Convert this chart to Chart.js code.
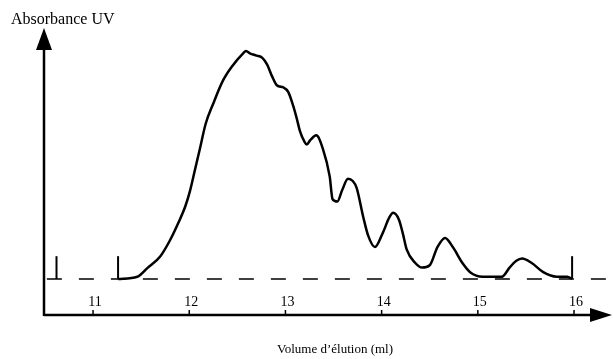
<!DOCTYPE html>
<html>
<head>
<meta charset="utf-8">
<title>Absorbance UV</title>
<script src="https://cdn.jsdelivr.net/npm/chart.js@4/dist/chart.umd.min.js"></script>
<style>
  html, body { margin: 0; padding: 0; background: #fff; }
  #wrap { width: 613px; height: 359px; position: relative; }
</style>
</head>
<body>
<div id="wrap"><canvas id="myLineChart" width="613" height="359"></canvas></div>
<script>
// Elution profile (volume in ml, absorbance in arbitrary units, baseline = 0)
const volumes = [11.26, 11.46, 11.57, 11.70, 11.80, 11.88, 11.96, 12.01, 12.06, 12.11, 12.17, 12.25, 12.35, 12.44,
  12.56, 12.59, 12.63, 12.70, 12.76, 12.81, 12.86, 12.91, 12.98, 13.03, 13.08, 13.12, 13.15, 13.20, 13.22,
  13.26, 13.32, 13.39, 13.46, 13.49, 13.54, 13.59, 13.65, 13.70, 13.74, 13.81, 13.86, 13.93, 14.01, 14.08,
  14.12, 14.18, 14.22, 14.26, 14.35, 14.42, 14.50, 14.58, 14.66, 14.74, 14.84, 14.92, 15.05, 15.25, 15.33,
  15.40, 15.46, 15.56, 15.68, 15.82, 15.93, 15.98];
const absorbance = [0.00, 0.01, 0.05, 0.10, 0.17, 0.24, 0.32, 0.39, 0.48, 0.57, 0.68, 0.77, 0.87, 0.93,
  0.99, 1.00, 0.99, 0.98, 0.97, 0.94, 0.89, 0.85, 0.84, 0.82, 0.76, 0.70, 0.65, 0.60, 0.59,
  0.61, 0.63, 0.57, 0.45, 0.35, 0.34, 0.39, 0.44, 0.43, 0.40, 0.27, 0.19, 0.14, 0.20, 0.27,
  0.29, 0.26, 0.20, 0.13, 0.07, 0.05, 0.06, 0.14, 0.18, 0.14, 0.07, 0.03, 0.01, 0.01, 0.05,
  0.08, 0.09, 0.07, 0.03, 0.01, 0.01, 0.00];

// Small vertical markers standing on the baseline
const markerVolumes = [10.62, 11.26, 15.98];
const markerHeight = 0.10;

// Tick labels of the volume axis
const tickLabels = [11, 12, 13, 14, 15, 16];

const xMin = 10.49;
const xMax = 16.374;
const yMin = -0.158;
const yMax = 1.101;

// Draws the arrowed axes, the ticks and the texts
const axesPlugin = {
  id: 'arrowAxes',
  afterDraw(chart) {
    const ctx = chart.ctx;
    const area = chart.chartArea;
    const xScale = chart.scales.x;
    ctx.save();
    ctx.strokeStyle = '#000';
    ctx.fillStyle = '#000';
    ctx.lineWidth = 2.5;

    // y axis with arrow head
    ctx.beginPath();
    ctx.moveTo(area.left, area.bottom + 1);
    ctx.lineTo(area.left, area.top + 18);
    ctx.stroke();
    ctx.beginPath();
    ctx.moveTo(area.left, area.top);
    ctx.lineTo(area.left - 8, area.top + 22);
    ctx.lineTo(area.left + 8, area.top + 22);
    ctx.closePath();
    ctx.fill();

    // x axis with arrow head
    ctx.beginPath();
    ctx.moveTo(area.left, area.bottom);
    ctx.lineTo(area.right - 18, area.bottom);
    ctx.stroke();
    ctx.beginPath();
    ctx.moveTo(area.right + 2, area.bottom);
    ctx.lineTo(area.right - 20, area.bottom - 7);
    ctx.lineTo(area.right - 20, area.bottom + 7);
    ctx.closePath();
    ctx.fill();

    // ticks and labels
    ctx.lineWidth = 1.5;
    ctx.font = '14px "Liberation Serif", "Times New Roman", serif';
    ctx.textAlign = 'center';
    ctx.textBaseline = 'middle';
    tickLabels.forEach(v => {
      const px = xScale.getPixelForValue(v);
      ctx.beginPath();
      ctx.moveTo(px, area.bottom);
      ctx.lineTo(px, area.bottom - 5);
      ctx.stroke();
      ctx.fillText(String(v), px + 2, area.bottom - 13);
    });

    // axis titles
    ctx.font = '16px "Liberation Serif", "Times New Roman", serif';
    ctx.textAlign = 'left';
    ctx.fillText('Absorbance UV', 11, 20);
    ctx.font = '13px "Liberation Serif", "Times New Roman", serif';
    ctx.textAlign = 'center';
    ctx.fillText('Volume d\u2019élution (ml)', 335, 350);
    ctx.restore();
  }
};

document.addEventListener('DOMContentLoaded', () => {
  const ctx = document.getElementById('myLineChart').getContext('2d');

  const datasets = [{
    label: 'Absorbance',
    data: volumes.map((v, i) => ({ x: v, y: absorbance[i] })),
    borderColor: '#000',
    borderWidth: 2.5,
    pointRadius: 0,
    cubicInterpolationMode: 'monotone',
    fill: false,
  }, {
    label: 'Ligne de base',
    data: [{ x: xMin + 0.03, y: 0 }, { x: xMax + 0.05, y: 0 }],
    borderColor: '#000',
    borderWidth: 1.5,
    borderDash: [15, 17],
    pointRadius: 0,
    fill: false,
  }];

  // one short vertical segment per marker
  markerVolumes.forEach(v => {
    datasets.push({
      label: 'Marqueur',
      data: [{ x: v, y: 0 }, { x: v, y: markerHeight }],
      borderColor: '#000',
      borderWidth: 2,
      pointRadius: 0,
      fill: false,
    });
  });

  new Chart(ctx, {
    type: 'line',
    data: { datasets },
    options: {
      responsive: false,
      animation: false,
      clip: false,
      layout: { padding: { left: 44, right: 3, top: 28, bottom: 44 } },
      plugins: {
        legend: { display: false },
        tooltip: { enabled: false },
        title: { display: false },
      },
      scales: {
        x: { type: 'linear', min: xMin, max: xMax, display: false },
        y: { type: 'linear', min: yMin, max: yMax, display: false },
      },
    },
    plugins: [axesPlugin],
  });
});
</script>
</body>
</html>
